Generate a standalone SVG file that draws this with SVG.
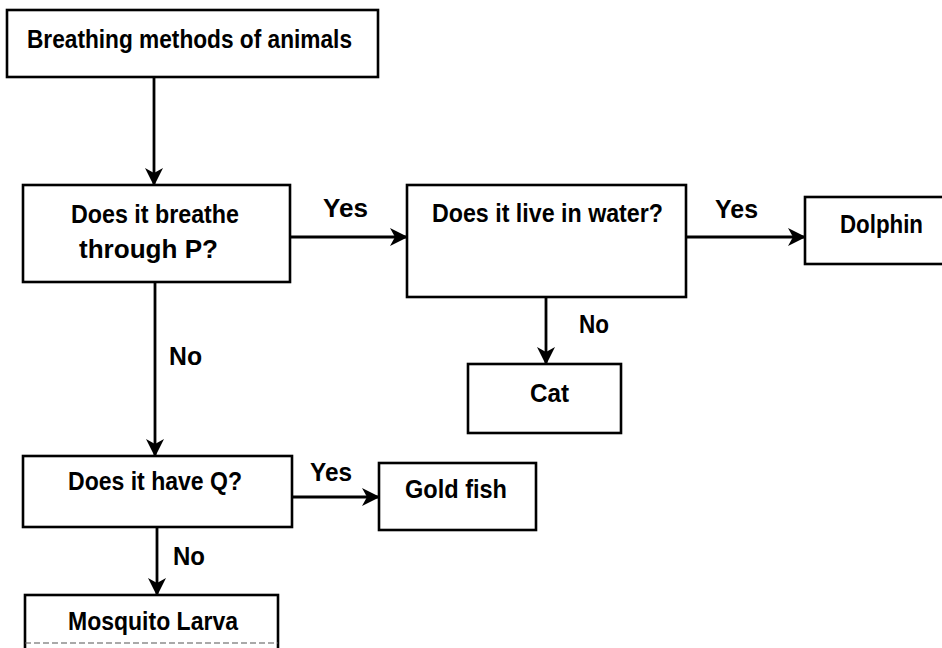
<svg xmlns="http://www.w3.org/2000/svg" width="942" height="648" viewBox="0 0 942 648">
<style>
.box{fill:#fff;stroke:#000;stroke-width:2.6}
.lbl{font-family:"Liberation Sans",Arial,sans-serif;font-size:25px;font-weight:bold;fill:#000}
.edge{stroke:#000;stroke-width:2.8;fill:none}
</style>
<defs>
<marker id="ah" viewBox="0 0 18 18" refX="17" refY="9" markerWidth="18" markerHeight="18" markerUnits="userSpaceOnUse" orient="auto">
<path d="M0,0 L18,9 L0,18 L5,9 Z" fill="#000"/>
</marker>
</defs>
<rect width="942" height="648" fill="#fff"/>
<g id="connectors">
<line class="edge" x1="154" y1="77" x2="154" y2="185" marker-end="url(#ah)"/>
<line class="edge" x1="290" y1="237" x2="407" y2="237" marker-end="url(#ah)"/>
<line class="edge" x1="686" y1="237" x2="805" y2="237" marker-end="url(#ah)"/>
<line class="edge" x1="546" y1="297" x2="546" y2="364" marker-end="url(#ah)"/>
<line class="edge" x1="155" y1="282" x2="155" y2="456" marker-end="url(#ah)"/>
<line class="edge" x1="292" y1="497" x2="379" y2="497" marker-end="url(#ah)"/>
<line class="edge" x1="157" y1="527" x2="157" y2="595" marker-end="url(#ah)"/>
<text class="lbl" x="323" y="217" textLength="45" lengthAdjust="spacingAndGlyphs">Yes</text>
<text class="lbl" x="715" y="218" textLength="43" lengthAdjust="spacingAndGlyphs">Yes</text>
<text class="lbl" x="579" y="333" textLength="30" lengthAdjust="spacingAndGlyphs">No</text>
<text class="lbl" x="169" y="365" textLength="33" lengthAdjust="spacingAndGlyphs">No</text>
<text class="lbl" x="310" y="481" textLength="42" lengthAdjust="spacingAndGlyphs">Yes</text>
<text class="lbl" x="173" y="565" textLength="32" lengthAdjust="spacingAndGlyphs">No</text>
</g>
<g id="start">
<rect class="box" x="7" y="10" width="371" height="67"/>
<text class="lbl" x="27" y="48" textLength="325" lengthAdjust="spacingAndGlyphs">Breathing methods of animals</text>
</g>
<g id="q-breathe-p">
<rect class="box" x="23" y="185" width="267" height="97"/>
<text class="lbl" x="71" y="223" textLength="168" lengthAdjust="spacingAndGlyphs">Does it breathe</text>
<text class="lbl" x="79" y="258" textLength="139" lengthAdjust="spacingAndGlyphs">through P?</text>
</g>
<g id="q-water">
<rect class="box" x="407" y="185" width="279" height="112"/>
<text class="lbl" x="432" y="222" textLength="231" lengthAdjust="spacingAndGlyphs">Does it live in water?</text>
</g>
<g id="dolphin">
<rect class="box" x="805" y="197" width="150" height="67"/>
<text class="lbl" x="840" y="233" textLength="83" lengthAdjust="spacingAndGlyphs">Dolphin</text>
</g>
<g id="cat">
<rect class="box" x="468" y="364" width="153" height="69"/>
<text class="lbl" x="530" y="402" textLength="39" lengthAdjust="spacingAndGlyphs">Cat</text>
</g>
<g id="q-have-q">
<rect class="box" x="23" y="456" width="269" height="71"/>
<text class="lbl" x="68" y="490" textLength="174" lengthAdjust="spacingAndGlyphs">Does it have Q?</text>
</g>
<g id="goldfish">
<rect class="box" x="379" y="463" width="157" height="67"/>
<text class="lbl" x="405" y="498" textLength="102" lengthAdjust="spacingAndGlyphs">Gold fish</text>
</g>
<g id="mosquito">
<rect class="box" x="25" y="595" width="253" height="60"/>
<line x1="25" y1="643" x2="278" y2="643" stroke="#555" stroke-width="1.2" stroke-dasharray="6 3"/>
<text class="lbl" x="68" y="630" textLength="170" lengthAdjust="spacingAndGlyphs">Mosquito Larva</text>
</g>
</svg>
